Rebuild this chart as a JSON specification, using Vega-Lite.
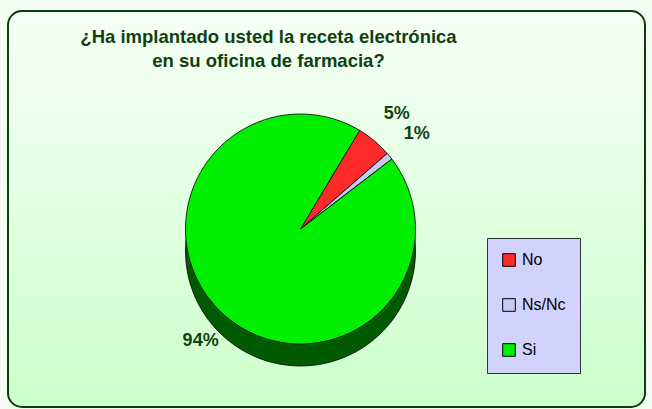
{
  "$schema": "https://vega.github.io/schema/vega-lite/v6.json",
  "autosize": {"type": "none"},
  "width": 637,
  "height": 396,
  "padding": {"left": 8, "top": 11, "right": 7, "bottom": 2},
  "background": "#f3fbf3",
  "view": {
    "fill": {"gradient": "linear", "x1": 0, "y1": 0, "x2": 0, "y2": 1, "stops": [{"offset": 0, "color": "#f6fff6"}, {"offset": 1, "color": "#ccffcc"}]},
    "stroke": "#0b3d0b",
    "strokeWidth": 2,
    "cornerRadius": 14
  },
  "title": {
    "text": ["¿Ha implantado usted la receta electrónica", "en su oficina de farmacia?"],
    "font": "Liberation Sans",
    "fontSize": 18.5,
    "fontWeight": "bold",
    "color": "#0f3f0f",
    "lineHeight": 24,
    "anchor": "middle",
    "baseline": "top",
    "offset": -59,
    "dx": -58
  },
  "data": {
    "values": [
      {"answer": "No", "pct": 0.05},
      {"answer": "Ns/Nc", "pct": 0.01},
      {"answer": "Si", "pct": 0.94}
    ]
  },
  "encoding": {
    "theta": {"field": "pct", "type": "quantitative", "stack": true, "scale": {"range": [0.54, 6.8232]}},
    "order": {"field": "answer", "type": "nominal", "sort": "ascending"}
  },
  "layer": [
    {
      "mark": {"type": "arc", "outerRadius": 115, "xOffset": -26, "yOffset": 42, "stroke": "#000000", "strokeWidth": 0.8},
      "encoding": {
        "fill": {
          "condition": [
            {"test": "datum.answer === 'No'", "value": "#8a0000"},
            {"test": "datum.answer === 'Ns/Nc'", "value": "#505070"}
          ],
          "value": "#005a00"
        }
      }
    },
    {
      "mark": {"type": "arc", "outerRadius": 115, "xOffset": -26, "yOffset": 20, "stroke": "#000000", "strokeWidth": 0.8},
      "encoding": {
        "color": {
          "field": "answer",
          "type": "nominal",
          "scale": {"domain": ["No", "Ns/Nc", "Si"], "range": ["#ff2a2a", "#c8c8f4", "#00ee00"]},
          "legend": {
            "title": null,
            "orient": "none",
            "legendX": 479,
            "legendY": 227,
            "fillColor": "#d2d2ff",
            "strokeColor": "#333333",
            "padding": 14,
            "rowPadding": 27,
            "symbolType": "square",
            "symbolSize": 160,
            "symbolStrokeColor": "#000000",
            "symbolStrokeWidth": 1,
            "symbolOpacity": 1,
            "labelFont": "Liberation Sans",
            "labelFontSize": 16,
            "labelColor": "#000000",
            "labelOffset": 5
          }
        }
      }
    },
    {
      "mark": {"type": "text", "radius": 148, "xOffset": -26, "yOffset": 20, "font": "Liberation Sans", "fontSize": 18, "fontWeight": "bold", "color": "#124412"},
      "encoding": {
        "text": {"field": "pct", "type": "quantitative", "format": ".0%"},
        "radius": {"condition": {"test": "datum.answer === 'Ns/Nc'", "value": 168}, "value": 150}
      }
    }
  ]
}
